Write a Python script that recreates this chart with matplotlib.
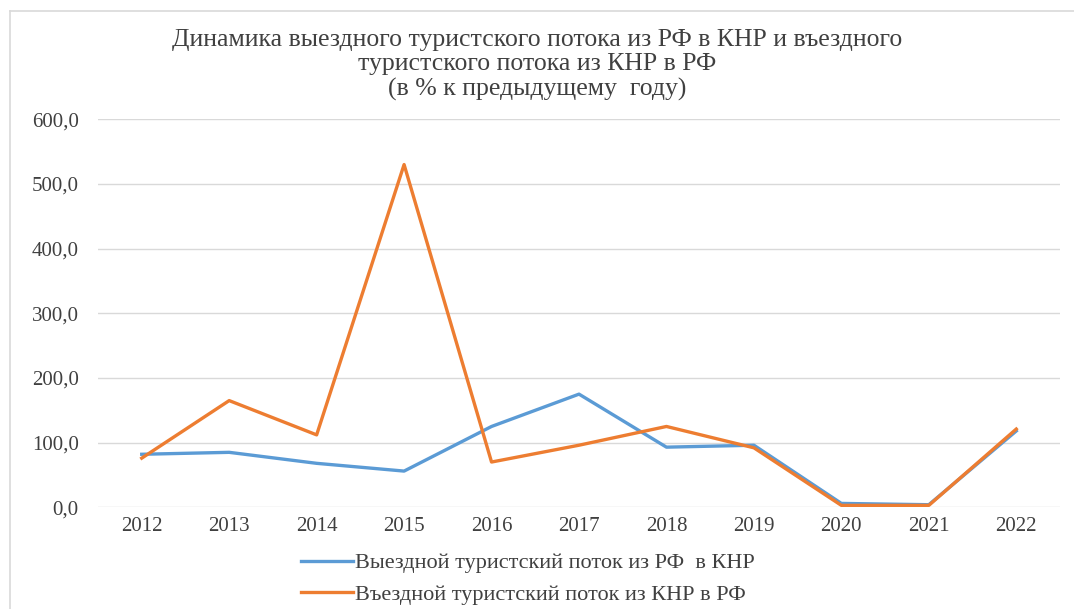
import matplotlib
matplotlib.use("Agg")
import matplotlib.pyplot as plt
from matplotlib.lines import Line2D

# Data: year-over-year tourist flow, % of previous year
years = ["2012", "2013", "2014", "2015", "2016", "2017", "2018", "2019", "2020", "2021", "2022"]
outbound_ru_cn = [82, 85, 68, 56, 125, 175, 93, 96, 6, 4, 118]
inbound_cn_ru = [76, 165, 112, 530, 70, 96, 125, 92, 3, 3, 121]
y_ticks = [0, 100, 200, 300, 400, 500, 600]
series_labels = ["Выездной туристский поток из РФ  в КНР",
                 "Въездной туристский поток из КНР в РФ"]
title_text = ("Динамика выездного туристского потока из РФ в КНР и въездного\n"
              "туристского потока из КНР в РФ\n"
              "(в % к предыдущему  году)")

plt.rcParams["font.family"] = ["Liberation Serif", "DejaVu Serif"]
text_color = "#404040"
blue = "#5B9BD5"
orange = "#ED7D31"

fig = plt.figure(figsize=(10.74, 6.09), dpi=100)
ax = fig.add_axes([98 / 1074, 1 - 507.3 / 609, (1060 - 98) / 1074, (507.3 - 119.3) / 609])

x = list(range(len(years)))
ax.plot(x, outbound_ru_cn, color=blue, lw=2.4, solid_joinstyle="round", zorder=3)
ax.plot(x, inbound_cn_ru, color=orange, lw=2.4, solid_joinstyle="round", zorder=4)

ax.set_xlim(-0.5, len(years) - 0.5)
ax.set_ylim(0, 600)
ax.set_yticks(y_ticks)
ax.set_yticklabels([f"{v:.1f}".replace(".", ",") for v in y_ticks])
ax.set_xticks(x)
ax.set_xticklabels(years)
ax.yaxis.grid(True, color="#d9d9d9", lw=1.0)
ax.set_axisbelow(True)
for s in ax.spines.values():
    s.set_visible(False)
ax.tick_params(axis="both", length=0, colors=text_color, labelsize=15)
ax.tick_params(axis="y", pad=14)
ax.tick_params(axis="x", pad=7)

fig.text(0.5, 1 - 65 / 609, title_text, ha="center", va="center",
         fontsize=18.5, color=text_color, linespacing=1.13)

handles = [Line2D([], [], color=blue, lw=2.4), Line2D([], [], color=orange, lw=2.4)]
fig.legend(handles, series_labels, loc="center", bbox_to_anchor=(528 / 1074, 1 - 579 / 609),
           ncol=1, frameon=False, fontsize=16, handlelength=2.3, handletextpad=0.1,
           labelspacing=0.5, labelcolor=text_color)

# chart-area frame
fig.add_artist(Line2D([10 / 1074, 10 / 1074], [0, 1 - 11 / 609], color="#d9d9d9", lw=1.2,
                      transform=fig.transFigure))
fig.add_artist(Line2D([10 / 1074, 1], [1 - 11 / 609, 1 - 11 / 609], color="#d9d9d9", lw=1.2,
                      transform=fig.transFigure))

fig.savefig("out.png", dpi=100, facecolor="white")
